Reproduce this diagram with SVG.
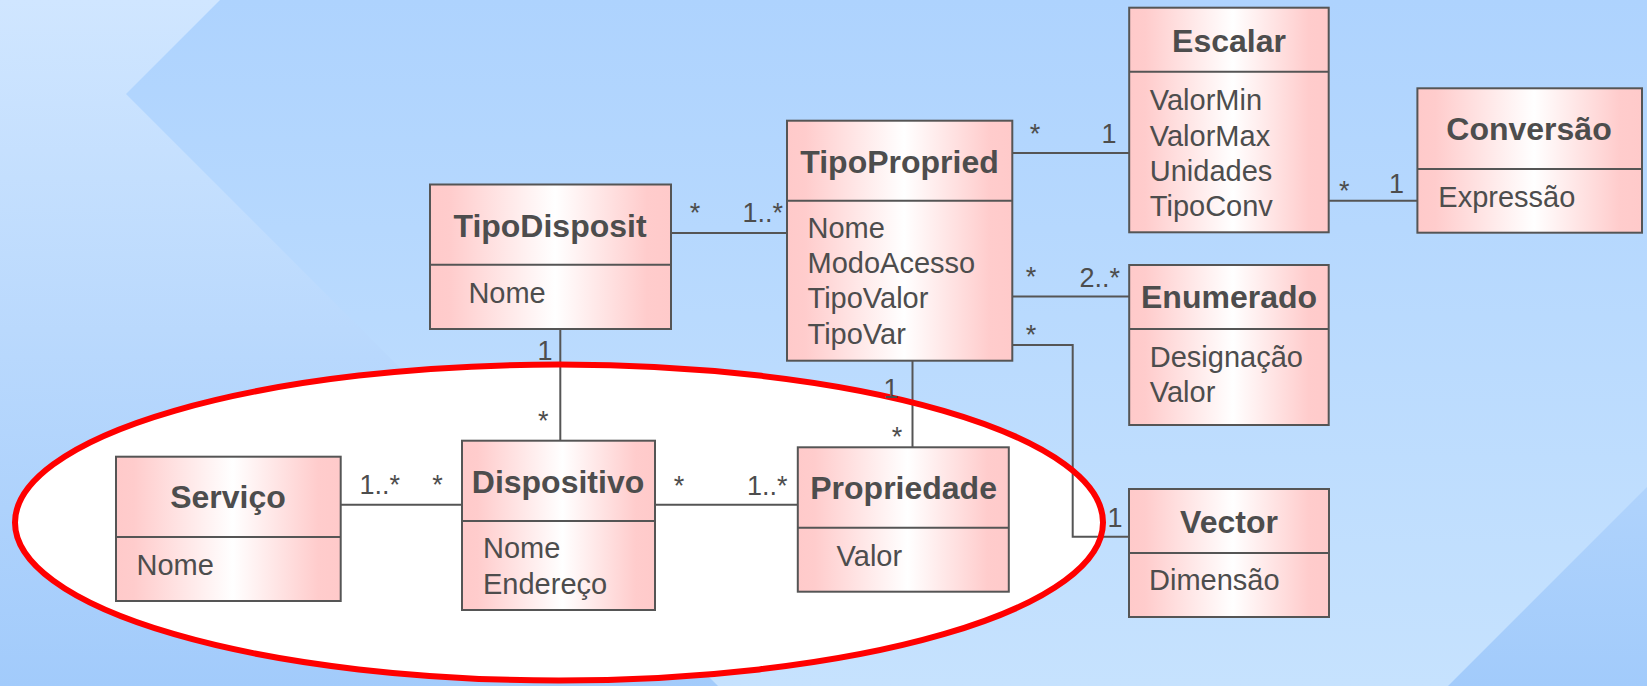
<svg xmlns="http://www.w3.org/2000/svg" width="1647" height="686" viewBox="0 0 1647 686">
<defs>
<linearGradient id="bgMain" gradientUnits="userSpaceOnUse" x1="0" y1="0" x2="0" y2="686">
<stop offset="0" stop-color="#aed3fe"/><stop offset="1" stop-color="#c6e2fe"/>
</linearGradient>
<linearGradient id="bgSide" gradientUnits="userSpaceOnUse" x1="0" y1="0" x2="0" y2="686">
<stop offset="0" stop-color="#d0e6ff"/><stop offset="1" stop-color="#a2cbfb"/>
</linearGradient>
<linearGradient id="boxFill" x1="0" y1="0" x2="1" y2="0">
<stop offset="0" stop-color="#ffcaca"/><stop offset="0.08" stop-color="#ffcccc"/><stop offset="0.52" stop-color="#ffffff"/><stop offset="0.9" stop-color="#ffcccc"/><stop offset="1" stop-color="#ffcaca"/>
</linearGradient>
<style>
.box{fill:url(#boxFill);stroke:#555;stroke-width:2}
.div{stroke:#555;stroke-width:2}
.t{font-family:"Liberation Sans",Arial,sans-serif;font-weight:bold;font-size:32px;fill:#4d4d4d;text-anchor:middle}
.a{font-family:"Liberation Sans",Arial,sans-serif;font-size:29px;fill:#4d4d4d}
.l{font-family:"Liberation Sans",Arial,sans-serif;font-size:27px;fill:#4d4d4d}
.m{text-anchor:middle}
.e{text-anchor:end}
.c{fill:none;stroke:#555;stroke-width:2}
</style>
</defs>
<rect x="0" y="0" width="1647" height="686" fill="url(#bgMain)"/>
<polygon points="0,0 220,0 126,94 718,686 0,686" fill="url(#bgSide)"/>
<polygon points="1448,686 1647,487 1647,686" fill="url(#bgSide)"/>
<ellipse cx="559" cy="522.5" rx="544" ry="158" fill="#ffffff"/>
<g id="connectors">
<line class="c" x1="671" y1="233" x2="787" y2="233"/>
<line class="c" x1="1012" y1="153" x2="1129" y2="153"/>
<line class="c" x1="1012" y1="296.5" x2="1129" y2="296.5"/>
<polyline class="c" points="1012,345 1072.7,345 1072.7,536.7 1129,536.7"/>
<line class="c" x1="1328.7" y1="200.7" x2="1417.4" y2="200.7"/>
<line class="c" x1="560.3" y1="329" x2="560.3" y2="440.7"/>
<line class="c" x1="340.7" y1="504.7" x2="462" y2="504.7"/>
<line class="c" x1="912.5" y1="360.7" x2="912.5" y2="447.3"/>
<line class="c" x1="655" y1="504.7" x2="797.8" y2="504.7"/>
</g>
<ellipse cx="559" cy="522.5" rx="544" ry="158" fill="none" stroke="#ff0000" stroke-width="6"/>
<g id="labels">
<text class="l m" x="695" y="222">*</text>
<text class="l e" x="783" y="222">1..*</text>
<text class="l m" x="1035" y="142.5">*</text>
<text class="l m" x="1109" y="142.7">1</text>
<text class="l m" x="1031" y="286">*</text>
<text class="l e" x="1120" y="286.7">2..*</text>
<text class="l m" x="1031" y="343.5">*</text>
<text class="l m" x="1115" y="526.7">1</text>
<text class="l m" x="1344.3" y="199.5">*</text>
<text class="l m" x="1396.5" y="193.3">1</text>
<text class="l m" x="545" y="360">1</text>
<text class="l m" x="543.3" y="430">*</text>
<text class="l" x="359.4" y="494">1..*</text>
<text class="l m" x="437.5" y="493.5">*</text>
<text class="l m" x="891" y="398.3">1</text>
<text class="l m" x="897" y="445.5">*</text>
<text class="l m" x="679" y="495">*</text>
<text class="l e" x="787.5" y="495">1..*</text>
</g>
<g id="TipoDisposit">
<rect class="box" x="430" y="184.5" width="241" height="144.5"/>
<line class="div" x1="430" y1="264.7" x2="671" y2="264.7"/>
<text class="t" x="550" y="236.7">TipoDisposit</text>
<text class="a" x="468.4" y="303.3">Nome</text>
</g>
<g id="TipoPropried">
<rect class="box" x="787" y="120.7" width="225.3" height="240"/>
<line class="div" x1="787" y1="200.7" x2="1012.3" y2="200.7"/>
<text class="t" x="899.5" y="172.7">TipoPropried</text>
<text class="a" x="807.5" y="237.7">Nome</text>
<text class="a" x="807.5" y="273">ModoAcesso</text>
<text class="a" x="807.5" y="308.3">TipoValor</text>
<text class="a" x="807.5" y="344">TipoVar</text>
</g>
<g id="Escalar">
<rect class="box" x="1129.2" y="7.7" width="199.5" height="224.6"/>
<line class="div" x1="1129.2" y1="71.7" x2="1328.7" y2="71.7"/>
<text class="t" x="1229" y="51.7">Escalar</text>
<text class="a" x="1149.8" y="110">ValorMin</text>
<text class="a" x="1149.8" y="145.7">ValorMax</text>
<text class="a" x="1149.8" y="181">Unidades</text>
<text class="a" x="1149.8" y="216">TipoConv</text>
</g>
<g id="Conversao">
<rect class="box" x="1417.4" y="88.3" width="224.6" height="144.4"/>
<line class="div" x1="1417.4" y1="169" x2="1642" y2="169"/>
<text class="t" x="1529" y="140">Conversão</text>
<text class="a" x="1438.3" y="206.7">Expressão</text>
</g>
<g id="Enumerado">
<rect class="box" x="1129.2" y="265" width="199.5" height="160"/>
<line class="div" x1="1129.2" y1="329" x2="1328.7" y2="329"/>
<text class="t" x="1229" y="308.3">Enumerado</text>
<text class="a" x="1149.8" y="366.7">Designação</text>
<text class="a" x="1149.8" y="401.7">Valor</text>
</g>
<g id="Vector">
<rect class="box" x="1129" y="489" width="200" height="128"/>
<line class="div" x1="1129" y1="553" x2="1329" y2="553"/>
<text class="t" x="1229" y="532.7">Vector</text>
<text class="a" x="1149" y="590">Dimensão</text>
</g>
<g id="Servico">
<rect class="box" x="116" y="456.7" width="224.7" height="144.3"/>
<line class="div" x1="116" y1="537" x2="340.7" y2="537"/>
<text class="t" x="228" y="508.3">Serviço</text>
<text class="a" x="136.5" y="575">Nome</text>
</g>
<g id="Dispositivo">
<rect class="box" x="462" y="440.7" width="193" height="169.3"/>
<line class="div" x1="462" y1="521" x2="655" y2="521"/>
<text class="t" x="558" y="492.7">Dispositivo</text>
<text class="a" x="483" y="558.3">Nome</text>
<text class="a" x="483" y="594">Endereço</text>
</g>
<g id="Propriedade">
<rect class="box" x="797.8" y="447.3" width="211" height="144.4"/>
<line class="div" x1="797.8" y1="527.7" x2="1008.8" y2="527.7"/>
<text class="t" x="903.6" y="499.3">Propriedade</text>
<text class="a" x="836.6" y="566">Valor</text>
</g>
</svg>
